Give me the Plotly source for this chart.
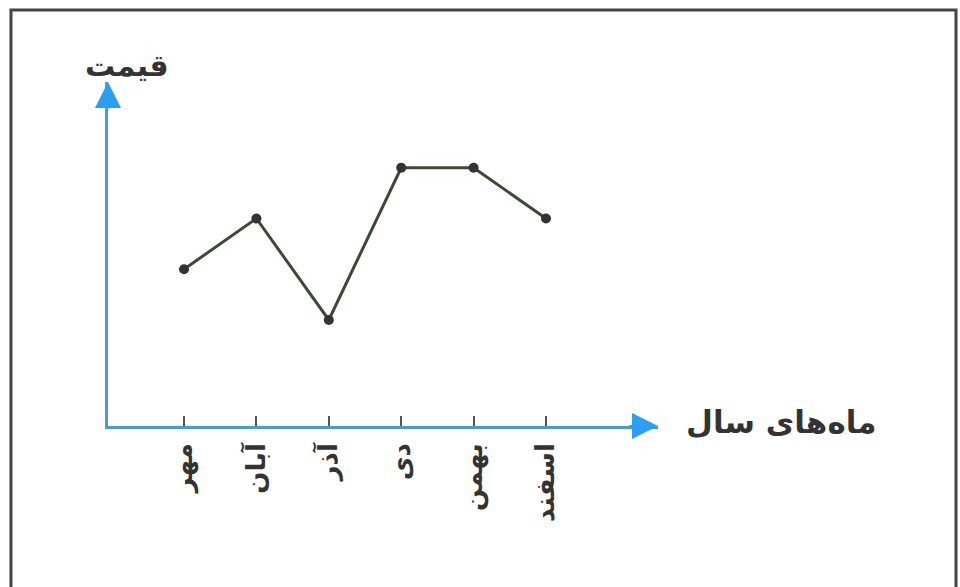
import plotly.graph_objects as go

months = ["مهر", "آبان", "آذر", "دی", "بهمن", "اسفند"]
prices = [3, 4, 2, 5, 5, 4]
x_title = "ماه‌های سال"
y_title = "قیمت"

xpos = list(range(len(months)))
X0, X1 = -1.05, 6.547
Y0, Y1 = -0.09, 6.69

fig = go.Figure()
fig.add_trace(go.Scatter(
    x=xpos, y=prices, mode="lines+markers",
    line=dict(color="#3b4a33", width=3),
    marker=dict(size=10, color="#333333"),
    hoverinfo="skip", showlegend=False,
))

AXIS_COLOR = "#4d9dc6"
ARROW_COLOR = "#2b9ff0"
FONT = "DejaVu Sans"

fig.update_xaxes(
    range=[X0, X1], tickmode="array", tickvals=xpos, ticktext=months,
    tickangle=-90, ticks="inside", ticklen=10, tickwidth=2, tickcolor="#555555",
    tickfont=dict(family=FONT, size=26, color="#333333", weight="bold"),
    showline=True, linecolor=AXIS_COLOR, linewidth=2.5,
    showgrid=False, zeroline=False, ticklabelstandoff=4,
)
fig.update_yaxes(
    range=[Y0, Y1], showticklabels=False, ticks="",
    showline=True, linecolor=AXIS_COLOR, linewidth=2.5,
    showgrid=False, zeroline=False,
)

# arrow heads on the axes
fig.add_annotation(x=X1, y=Y0, ax=X1 - 0.42, ay=Y0, xref="x", yref="y",
                   axref="x", ayref="y", showarrow=True, arrowhead=2,
                   arrowsize=2.6, arrowwidth=2, arrowcolor=ARROW_COLOR, text="")
fig.add_annotation(x=X0, y=Y1, ax=X0, ay=Y1 - 0.55, xref="x", yref="y",
                   axref="x", ayref="y", showarrow=True, arrowhead=2,
                   arrowsize=2.6, arrowwidth=2, arrowcolor=ARROW_COLOR, text="")

# axis titles
fig.add_annotation(x=-0.79, y=1.047, xref="x", yref="paper", text=y_title,
                   xanchor="center", yanchor="middle",
                   showarrow=False, font=dict(family=FONT, size=30, color="#333333", weight="bold"))
fig.add_annotation(x=1.224, y=0.012, xref="paper", yref="paper", text=x_title,
                   xanchor="center", yanchor="middle",
                   showarrow=False, font=dict(family=FONT, size=31, color="#333333", weight="bold"))

# frame
fig.add_shape(type="rect", xref="paper", yref="paper",
              x0=-0.1764, x1=1.5418, y0=-0.52, y1=1.2093,
              line=dict(color="#444444", width=3), fillcolor="rgba(0,0,0,0)")

fig.update_layout(
    width=960, height=587,
    margin=dict(l=108, r=302, t=82, b=161),
    paper_bgcolor="white", plot_bgcolor="white",
    showlegend=False,
)

fig.write_html("out.html", config={"displayModeBar": False},
               post_script="document.body.style.margin='0';")
